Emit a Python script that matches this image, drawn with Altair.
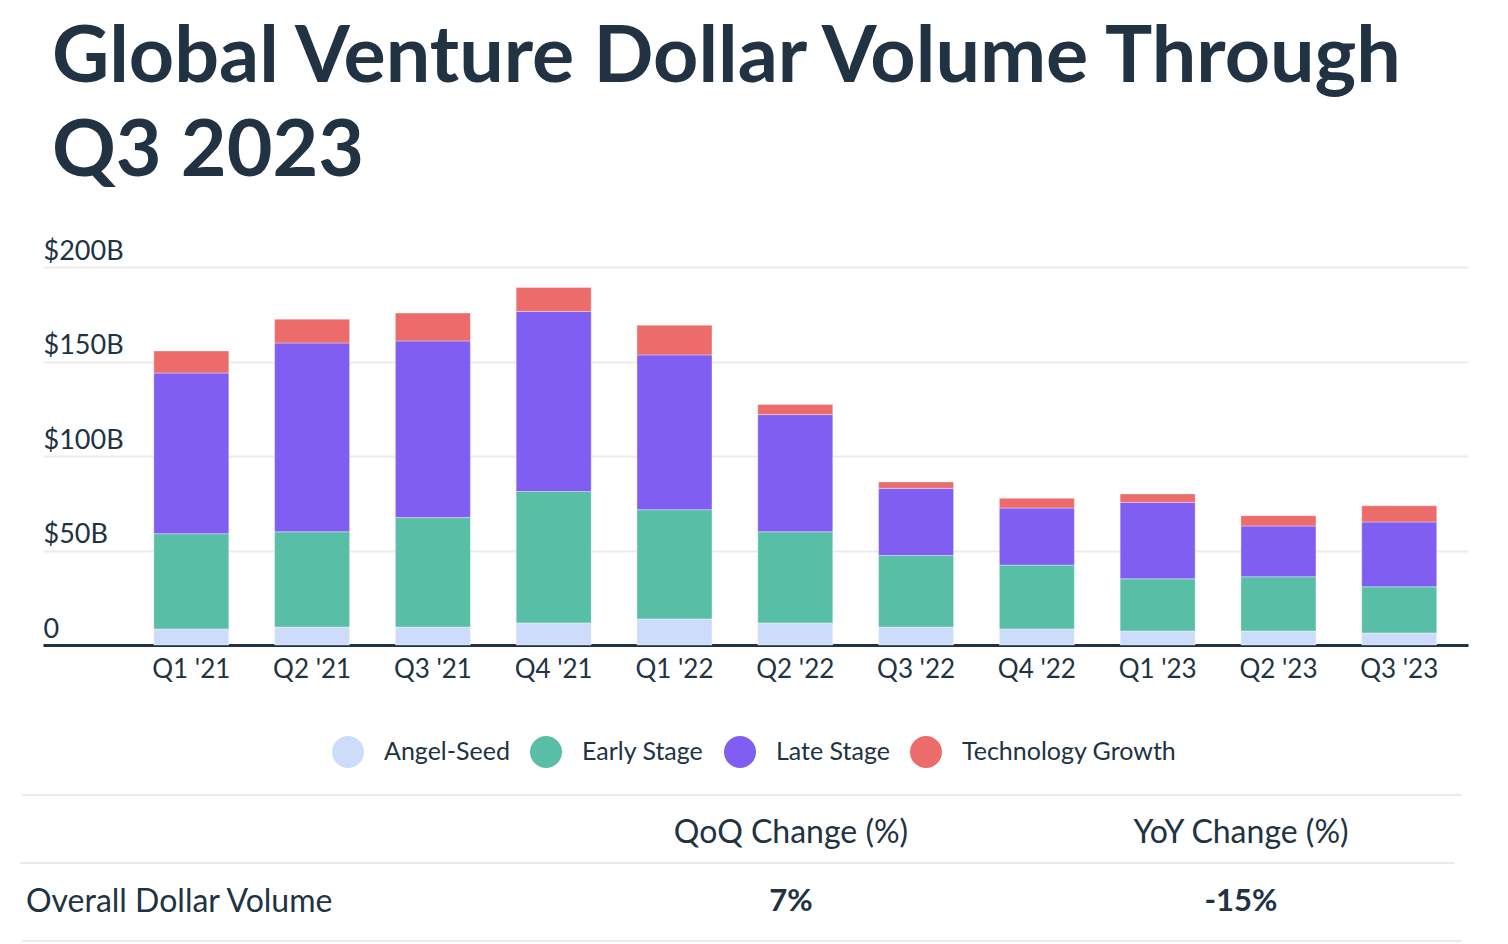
import altair as alt
import pandas as pd

# ---- data ----
quarters = ["Q1 '21", "Q2 '21", "Q3 '21", "Q4 '21", "Q1 '22", "Q2 '22",
            "Q3 '22", "Q4 '22", "Q1 '23", "Q2 '23", "Q3 '23"]
stages = ["Angel-Seed", "Early Stage", "Late Stage", "Technology Growth"]
angel_seed = [8.5, 9.5, 9.5, 11.7, 13.8, 11.7, 9.5, 8.5, 7.4, 7.4, 6.4]
early_stage = [50.4, 50.4, 57.9, 69.5, 57.8, 48.2, 37.9, 33.8, 27.6, 28.7, 24.4]
late_stage = [85.0, 99.9, 93.5, 95.3, 81.9, 62.0, 35.5, 30.2, 40.5, 26.9, 34.3]
tech_growth = [11.7, 12.6, 14.7, 12.7, 15.7, 5.3, 3.4, 5.1, 4.4, 5.4, 8.6]
stage_colors = ["#cddcfa", "#58bfa6", "#805ef2", "#ec6b6b"]
y_ticks = [0, 50, 100, 150, 200]

title_lines = "Global Venture Dollar Volume Through\nQ3 2023"
table_headers = ["QoQ Change (%)", "YoY Change (%)"]
table_row_label = "Overall Dollar Volume"
table_values = ["7%", "-15%"]

DARK = "#213343"
FONT = "Lato"

series = [angel_seed, early_stage, late_stage, tech_growth]
rows = []
for si, (name, vals) in enumerate(zip(stages, series)):
    for q, v in zip(quarters, vals):
        rows.append({"quarter": q, "stage": name, "value": v, "order": si})
df = pd.DataFrame(rows)

W, H = 1425, 378

bars = alt.Chart(df).mark_bar(stroke="white", strokeWidth=0.6, strokeOpacity=0.6).encode(
    x=alt.X("quarter:N", sort=quarters,
            scale=alt.Scale(paddingInner=0.379, paddingOuter=0.588, align=0.78),
            axis=alt.Axis(title=None, labelAngle=0, ticks=False, domain=True,
                          domainColor=DARK, domainWidth=3, labelPadding=11,
                          labelFontSize=26, labelColor=DARK, labelFont=FONT,
                          grid=False)),
    y=alt.Y("value:Q", stack="zero",
            scale=alt.Scale(domain=[0, 200], nice=False),
            axis=alt.Axis(title=None, values=y_ticks, ticks=False, tickSize=0,
                          domain=False, grid=True, gridColor="#ebebeb", gridWidth=2,
                          labelAlign="left", labelBaseline="alphabetic",
                          labelOffset=-8, labelPadding=0,
                          labelFontSize=27, labelColor=DARK, labelFont=FONT,
                          labelExpr="datum.value == 0 ? '0' : '$' + datum.value + 'B'")),
    color=alt.Color("stage:N", sort=stages,
                    scale=alt.Scale(domain=stages, range=stage_colors),
                    legend=alt.Legend(title=None, orient="none", legendX=289, legendY=469,
                                      direction="horizontal", symbolType="circle",
                                      symbolSize=1024, symbolStrokeWidth=0,
                                      labelFontSize=25, labelFont=FONT, labelColor=DARK,
                                      labelLimit=0, labelOffset=20, columnPadding=20,
                                      padding=0)),
    order=alt.Order("order:Q", sort="ascending"),
)

title = alt.Chart(pd.DataFrame({"t": [title_lines]})).mark_text(
    align="left", baseline="alphabetic", font=FONT, fontWeight="bold",
    fontSize=79, color=DARK, lineBreak="\n", lineHeight=94,
).encode(text="t:N", x=alt.value(9), y=alt.value(-185))

rule_style = dict(color="#ebebeb", strokeWidth=2)
line1 = alt.Chart(pd.DataFrame({"a": [0]})).mark_rule(**rule_style).encode(
    x=alt.value(-21), x2=alt.value(1419), y=alt.value(528))
line2 = alt.Chart(pd.DataFrame({"a": [0]})).mark_rule(**rule_style).encode(
    x=alt.value(-23), x2=alt.value(1412), y=alt.value(596))
line3 = alt.Chart(pd.DataFrame({"a": [0]})).mark_rule(**rule_style).encode(
    x=alt.value(-21), x2=alt.value(1419), y=alt.value(674))

txt = dict(font=FONT, fontSize=32, color=DARK, baseline="middle")
head1 = alt.Chart(pd.DataFrame({"t": [table_headers[0]]})).mark_text(align="center", **txt).encode(
    text="t:N", x=alt.value(748), y=alt.value(566))
head2 = alt.Chart(pd.DataFrame({"t": [table_headers[1]]})).mark_text(align="center", **txt).encode(
    text="t:N", x=alt.value(1198), y=alt.value(566))
rowlab = alt.Chart(pd.DataFrame({"t": [table_row_label]})).mark_text(align="left", **txt).encode(
    text="t:N", x=alt.value(-17), y=alt.value(635))
vtxt = dict(txt, fontSize=31)
val1 = alt.Chart(pd.DataFrame({"t": [table_values[0]]})).mark_text(align="center", fontWeight="bold", **vtxt).encode(
    text="t:N", x=alt.value(748), y=alt.value(635))
val2 = alt.Chart(pd.DataFrame({"t": [table_values[1]]})).mark_text(align="center", fontWeight="bold", **vtxt).encode(
    text="t:N", x=alt.value(1198), y=alt.value(635))

chart = alt.layer(bars, title, line1, line2, line3, head1, head2, rowlab, val1, val2).properties(
    width=W, height=H,
    padding={"left": 43, "top": 267, "right": 40, "bottom": 299},
    autosize=alt.AutoSizeParams(type="none"),
    view=alt.ViewBackground(stroke="transparent", strokeWidth=0),
).configure_view(stroke="transparent", strokeWidth=0).configure(background="white")

chart.save("out.html", embed_options={"renderer": "svg", "actions": False})
